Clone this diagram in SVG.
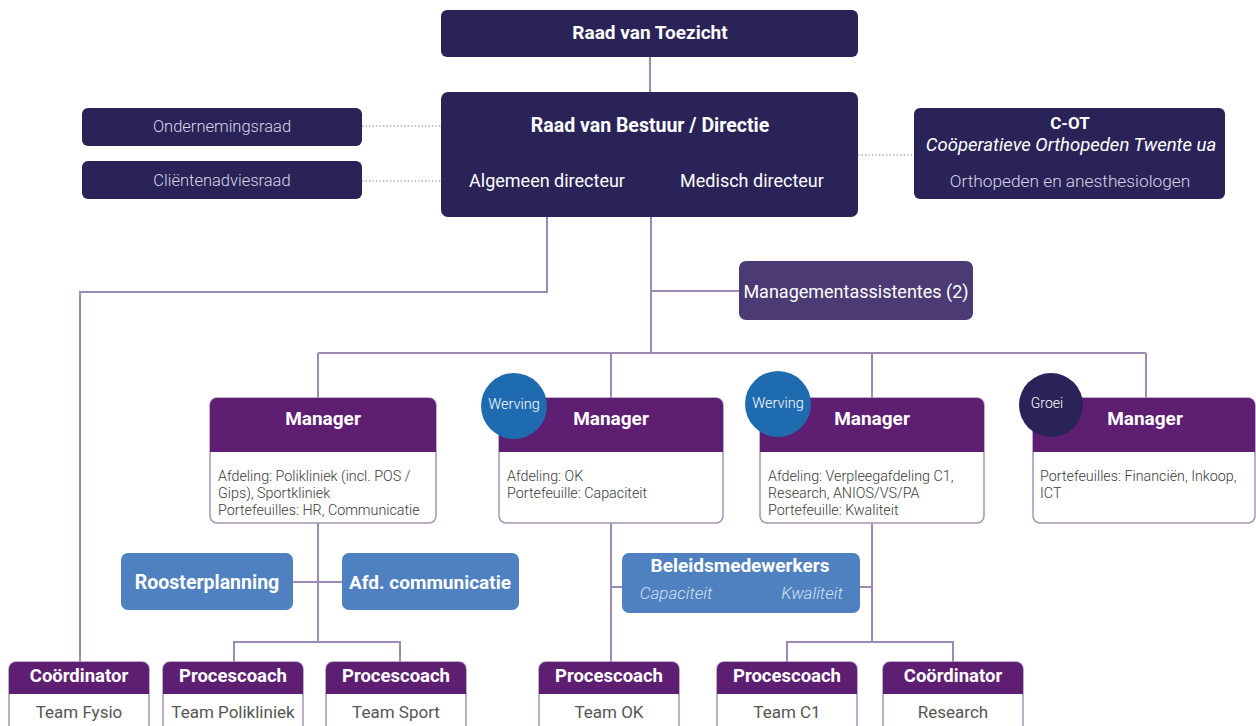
<svg xmlns="http://www.w3.org/2000/svg" width="1256" height="726" viewBox="0 0 1256 726">
<style>
.navy{fill:#2a2358}
.ma{fill:#4b3a73}
.head{fill:#5e1f73}
.body{fill:#fff;stroke:#a595b5;stroke-width:1.5}
.blue{fill:#4f81c0}
.line{stroke:#9d8ab3;stroke-width:2;fill:none}
.dot{stroke:#b3aac2;stroke-width:1.5;stroke-dasharray:1.5 2;fill:none}
text{font-family:Roboto,"Open Sans","Liberation Sans",sans-serif;dominant-baseline:central}
.tb{font-weight:700;fill:#fff;text-anchor:middle}
.tw{fill:#fff;text-anchor:middle}
.tl{font-weight:300;fill:#d8d6e6;text-anchor:middle}
.bt{fill:#3a3a3a;font-size:14.3px;font-weight:300}
.grey{fill:#555;text-anchor:middle;font-size:17px}
</style>
<g id="connectors">
<path class="line" d="M650,57 V92"/>
<path class="line" d="M547,200 V292 H80 V662"/>
<path class="line" d="M651,217 V353"/>
<path class="line" d="M651,291 H739"/>
<path class="line" d="M318,353 H1146"/>
<path class="line" d="M318,353 V398 M611,353 V398 M872,353 V398 M1146,353 V398"/>
<path class="line" d="M318,523 V642 M234,662 V642 H400 V662"/>
<path class="line" d="M293,582 H342"/>
<path class="line" d="M611,523 V662"/>
<path class="line" d="M611,587 H622 M860,587 H872"/>
<path class="line" d="M872,523 V642 M787,662 V642 H953 V662"/>
<path class="dot" d="M362,126 H441 M362,181 H441 M858,155 H914"/>
</g>
<g id="raad-van-toezicht">
<rect class="navy" x="441" y="10" width="417" height="47" rx="6"/>
<text class="tb" x="650" y="32" font-size="19">Raad van Toezicht</text>
</g>
<g id="raad-van-bestuur">
<rect class="navy" x="441" y="92" width="417" height="125" rx="7"/>
<text class="tb" x="650" y="125" font-size="19.5">Raad van Bestuur / Directie</text>
<text class="tw" x="547" y="180" font-size="18">Algemeen directeur</text>
<text class="tw" x="752" y="180" font-size="18">Medisch directeur</text>
</g>
<g id="ondernemingsraad">
<rect class="navy" x="82" y="108" width="280" height="38" rx="6"/>
<text class="tl" x="222" y="126" font-size="16.5">Ondernemingsraad</text>
</g>
<g id="clientenadviesraad">
<rect class="navy" x="82" y="161" width="280" height="38" rx="6"/>
<text class="tl" x="222" y="180" font-size="16.5">Cliëntenadviesraad</text>
</g>
<g id="c-ot">
<rect class="navy" x="914" y="108" width="311" height="91" rx="6"/>
<text class="tb" x="1070" y="123" font-size="17">C-OT</text>
<text class="tw" x="1071" y="145" font-size="18.5" font-style="italic">Coöperatieve Orthopeden Twente ua</text>
<text class="tl" x="1070" y="181" font-size="17.3">Orthopeden en anesthesiologen</text>
</g>
<g id="managementassistentes">
<rect class="ma" x="739" y="261" width="234" height="59" rx="7"/>
<text class="tw" x="856" y="291" font-size="18">Managementassistentes (2)</text>
</g>
<g id="manager-1">
<rect class="body" x="210" y="398" width="226" height="125" rx="7"/>
<path class="head" d="M210,452 V405 a7,7 0 0 1 7,-7 H429 a7,7 0 0 1 7,7 V452 Z"/>
<text class="tb" x="323" y="418" font-size="19">Manager</text>
<text class="bt" x="218" y="476">Afdeling: Polikliniek (incl. POS /</text>
<text class="bt" x="218" y="493">Gips), Sportkliniek</text>
<text class="bt" x="218" y="510">Portefeuilles: HR, Communicatie</text>
</g>
<g id="manager-2">
<rect class="body" x="499" y="398" width="224" height="125" rx="7"/>
<path class="head" d="M499,452 V405 a7,7 0 0 1 7,-7 H716 a7,7 0 0 1 7,7 V452 Z"/>
<text class="tb" x="611" y="418" font-size="19">Manager</text>
<text class="bt" x="507" y="476">Afdeling: OK</text>
<text class="bt" x="507" y="493">Portefeuille: Capaciteit</text>
<circle cx="514" cy="406" r="33" fill="#1f6bb0"/>
<text class="tw" x="514" y="404" font-size="14.5" font-weight="300">Werving</text>
</g>
<g id="manager-3">
<rect class="body" x="760" y="398" width="224" height="125" rx="7"/>
<path class="head" d="M760,452 V405 a7,7 0 0 1 7,-7 H977 a7,7 0 0 1 7,7 V452 Z"/>
<text class="tb" x="872" y="418" font-size="19">Manager</text>
<text class="bt" x="768" y="476">Afdeling: Verpleegafdeling C1,</text>
<text class="bt" x="768" y="493">Research, ANIOS/VS/PA</text>
<text class="bt" x="768" y="510">Portefeuille: Kwaliteit</text>
<circle cx="778" cy="404" r="33" fill="#1f6bb0"/>
<text class="tw" x="778" y="403" font-size="14.5" font-weight="300">Werving</text>
</g>
<g id="manager-4">
<rect class="body" x="1033" y="398" width="222" height="125" rx="7"/>
<path class="head" d="M1033,452 V405 a7,7 0 0 1 7,-7 H1248 a7,7 0 0 1 7,7 V452 Z"/>
<text class="tb" x="1145" y="418" font-size="19">Manager</text>
<text class="bt" x="1040" y="476">Portefeuilles: Financiën, Inkoop,</text>
<text class="bt" x="1040" y="493">ICT</text>
<circle cx="1051" cy="405" r="32" class="navy"/>
<text class="tw" x="1047" y="403" font-size="14" font-weight="300">Groei</text>
</g>
<g id="roosterplanning">
<rect class="blue" x="121" y="553" width="172" height="57" rx="7"/>
<text class="tb" x="207" y="582" font-size="19.5">Roosterplanning</text>
</g>
<g id="afd-communicatie">
<rect class="blue" x="342" y="553" width="177" height="57" rx="7"/>
<text class="tb" x="430" y="582" font-size="19">Afd. communicatie</text>
</g>
<g id="beleidsmedewerkers">
<rect class="blue" x="622" y="553" width="238" height="60" rx="7"/>
<text class="tb" x="740" y="565" font-size="19">Beleidsmedewerkers</text>
<text x="676" y="593" font-size="17" font-style="italic" font-weight="300" fill="#d6e2f3" text-anchor="middle">Capaciteit</text>
<text x="812" y="593" font-size="17" font-style="italic" font-weight="300" fill="#d6e2f3" text-anchor="middle">Kwaliteit</text>
</g>
<g id="coordinator-fysio">
<rect class="body" x="9" y="662" width="140" height="80" rx="7"/>
<path class="head" d="M9,694 V669 a7,7 0 0 1 7,-7 H142 a7,7 0 0 1 7,7 V694 Z"/>
<text class="tb" x="79" y="676" font-size="18.5">Coördinator</text>
<text class="grey" x="79" y="712">Team Fysio</text>
</g>
<g id="procescoach-polikliniek">
<rect class="body" x="163" y="662" width="140" height="80" rx="7"/>
<path class="head" d="M163,694 V669 a7,7 0 0 1 7,-7 H296 a7,7 0 0 1 7,7 V694 Z"/>
<text class="tb" x="233" y="676" font-size="18.5">Procescoach</text>
<text class="grey" x="233" y="712">Team Polikliniek</text>
</g>
<g id="procescoach-sport">
<rect class="body" x="326" y="662" width="140" height="80" rx="7"/>
<path class="head" d="M326,694 V669 a7,7 0 0 1 7,-7 H459 a7,7 0 0 1 7,7 V694 Z"/>
<text class="tb" x="396" y="676" font-size="18.5">Procescoach</text>
<text class="grey" x="396" y="712">Team Sport</text>
</g>
<g id="procescoach-ok">
<rect class="body" x="539" y="662" width="140" height="80" rx="7"/>
<path class="head" d="M539,694 V669 a7,7 0 0 1 7,-7 H672 a7,7 0 0 1 7,7 V694 Z"/>
<text class="tb" x="609" y="676" font-size="18.5">Procescoach</text>
<text class="grey" x="609" y="712">Team OK</text>
</g>
<g id="procescoach-c1">
<rect class="body" x="717" y="662" width="140" height="80" rx="7"/>
<path class="head" d="M717,694 V669 a7,7 0 0 1 7,-7 H850 a7,7 0 0 1 7,7 V694 Z"/>
<text class="tb" x="787" y="676" font-size="18.5">Procescoach</text>
<text class="grey" x="787" y="712">Team C1</text>
</g>
<g id="coordinator-research">
<rect class="body" x="883" y="662" width="140" height="80" rx="7"/>
<path class="head" d="M883,694 V669 a7,7 0 0 1 7,-7 H1016 a7,7 0 0 1 7,7 V694 Z"/>
<text class="tb" x="953" y="676" font-size="18.5">Coördinator</text>
<text class="grey" x="953" y="712">Research</text>
</g>
</svg>
